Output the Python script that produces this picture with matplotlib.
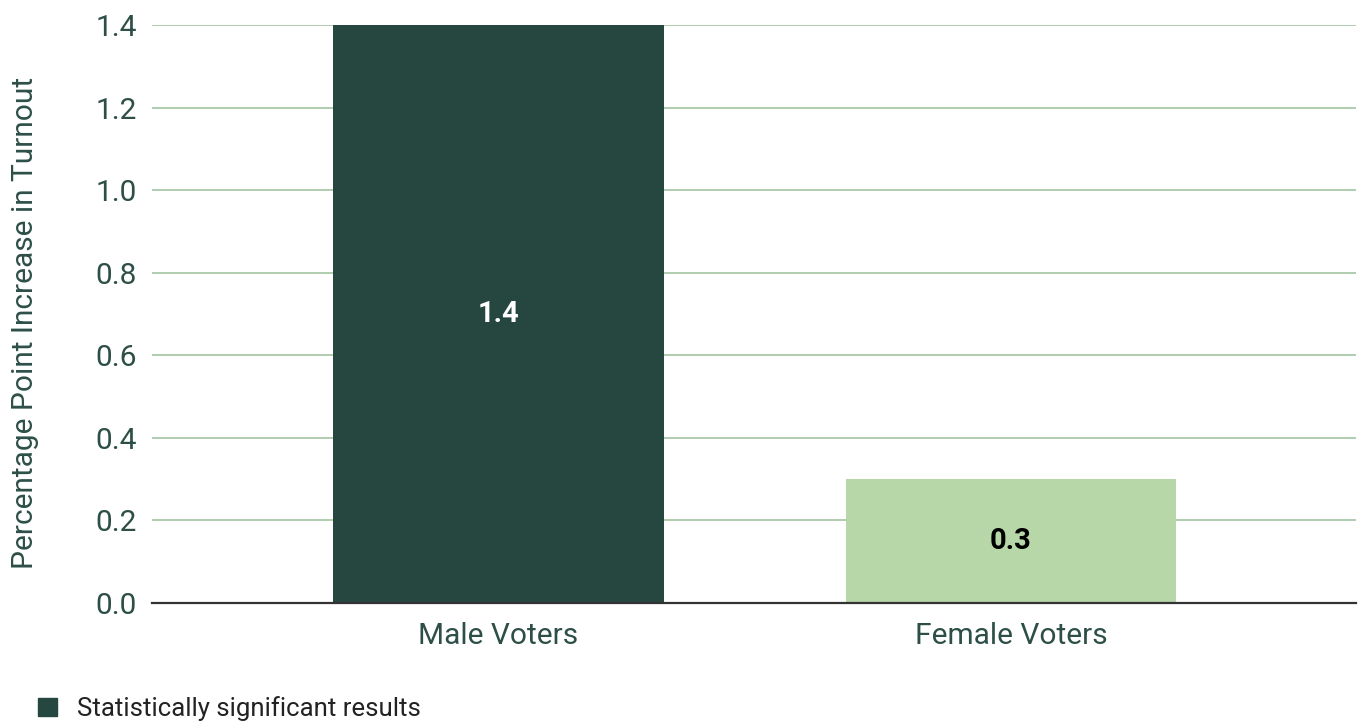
import matplotlib.pyplot as plt
from matplotlib.patches import Patch

plt.rcParams['font.family'] = ['Roboto', 'DejaVu Sans']

categories = ['Male Voters', 'Female Voters']
values = [1.4, 0.3]
bar_colors = ['#264640', '#b7d7a8']
label_colors = ['white', 'black']
yticks = [0.0, 0.2, 0.4, 0.6, 0.8, 1.0, 1.2, 1.4]

text_color = '#2d4f47'
grid_color = '#a9c9a9'

fig = plt.figure(figsize=(13.63, 7.26), dpi=100)
ax = fig.add_axes([0.1115, 0.1694, 0.8834, 0.7962])

x = range(len(categories))
bars = ax.bar(x, values, width=0.645, color=bar_colors, zorder=3)

# value labels in the middle of each bar
for b, v, c in zip(bars, values, label_colors):
    ax.text(b.get_x() + b.get_width() / 2, v / 2, f'{v:.1f}', ha='center', va='center',
            fontsize=21, fontweight='bold', color=c, zorder=4)

ax.set_xlim(-0.675, 1.673)
ax.set_ylim(0, 1.4)
ax.set_xticks(list(x))
ax.set_xticklabels(categories)
ax.set_yticks(yticks)
ax.set_yticklabels([f'{t:.1f}' for t in yticks])
ax.tick_params(axis='both', length=0, labelsize=21.5, colors=text_color)
ax.tick_params(axis='y', pad=11)
ax.tick_params(axis='x', pad=14)

ax.yaxis.grid(True, color=grid_color, linewidth=1.3, zorder=0)
for s in ['top', 'right', 'left']:
    ax.spines[s].set_visible(False)
ax.spines['bottom'].set_color('#333333')
ax.spines['bottom'].set_linewidth(1.6)
ax.spines['bottom'].set_zorder(5)

ax.set_ylabel('Percentage Point Increase in Turnout', fontsize=21.5, color=text_color)
ax.yaxis.set_label_coords(-0.094, 0.485)

handles = [Patch(facecolor=bar_colors[0], edgecolor=bar_colors[0])]
fig.legend(handles, ['Statistically significant results'], loc='lower left',
           bbox_to_anchor=(0.011, -0.025), frameon=False, fontsize=18.5,
           handlelength=0.75, handleheight=0.75, handletextpad=0.75, labelcolor='#222222')

fig.savefig('out.png', dpi=100)
